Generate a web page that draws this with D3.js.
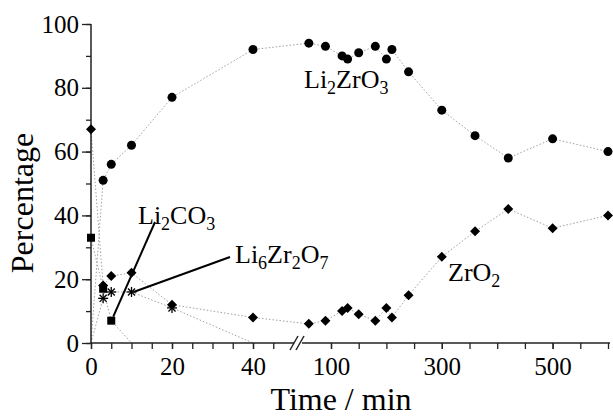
<!DOCTYPE html>
<html>
<head>
<meta charset="utf-8">
<script src="https://cdn.jsdelivr.net/npm/d3@7"></script>
<style>
  body { margin: 0; background: #fff; }
  svg { display: block; }
  text { font-family: "Liberation Serif", "Times New Roman", serif; }
</style>
</head>
<body>
<svg id="chart" width="613" height="418"></svg>
<script>
// time points (min)
const TIMES = [0, 3, 5, 10, 20, 40, 60, 90, 120, 130, 150, 180, 200, 210, 240, 300, 360, 420, 500, 600];
const LI2ZRO3 = [0, 51, 56, 62, 77, 92, 94, 93, 90, 89, 91, 93, 89, 92, 85, 73, 65, 58, 64, 60];
const ZRO2 = [67, 18, 21, 22, 12, 8, 6, 7, 10, 11, 9, 7, 11, 8, 15, 27, 35, 42, 36, 40];
const LI2CO3_TIMES = [0, 3, 5, 10];
const LI2CO3 = [33, 17, 7, 0];
const LI6_TIMES = [0, 3, 5, 10, 20, 40];
const LI6ZR2O7 = [0, 14, 16, 16, 11, 0];

const X_LEFT_TICKS = [0, 5, 10, 15, 20, 25, 30, 35, 40, 45];
const X_LEFT_LABELS = [0, 20, 40];
const X_RIGHT_TICKS = [100, 150, 200, 250, 300, 350, 400, 450, 500, 550, 600];
const X_RIGHT_LABELS = [100, 300, 500];
const Y_TICKS = [0, 10, 20, 30, 40, 50, 60, 70, 80, 90, 100];
const Y_LABELS = [0, 20, 40, 60, 80, 100];

const SERIF = '"Liberation Serif", "Times New Roman", serif';
const svg = d3.select("#chart");

const xLeft = d3.scaleLinear().domain([0, 40]).range([91, 253]);
const xRight = d3.scaleLinear().domain([100, 600]).range([331, 608]);
const x = t => (t <= 50 ? xLeft(t) : xRight(t));
const y = d3.scaleLinear().domain([0, 100]).range([343, 24]);

const zip = (ts, vs) => ts.map((t, i) => ({ t, v: vs[i] }));
const series = {
  li2zro3: zip(TIMES, LI2ZRO3),
  zro2: zip(TIMES, ZRO2),
  li2co3: zip(LI2CO3_TIMES, LI2CO3),
  li6: zip(LI6_TIMES, LI6ZR2O7)
};

// dotted connecting lines
const line = d3.line().x(d => x(d.t)).y(d => y(d.v));
Object.values(series).forEach(data => {
  svg.append("path")
    .attr("d", line(data))
    .attr("fill", "none")
    .attr("stroke", "#a0a0a0")
    .attr("stroke-width", 1)
    .attr("stroke-dasharray", "1.5,2");
});

// axes
function styleAxis(g) {
  g.attr("font-family", SERIF).attr("font-size", 25);
  g.select(".domain").remove();
  g.selectAll("line").attr("stroke", "#222").attr("stroke-width", 1.3);
  g.selectAll("text").attr("fill", "#000");
}

svg.append("g").attr("transform", "translate(91,0)")
  .call(d3.axisLeft(y).tickValues(Y_TICKS).tickSize(5).tickFormat(""))
  .call(styleAxis);
svg.append("g").attr("transform", "translate(91,0)")
  .call(d3.axisLeft(y).tickValues(Y_LABELS).tickSize(9).tickPadding(3))
  .call(styleAxis);

svg.append("g").attr("transform", "translate(0,343)")
  .call(d3.axisBottom(xLeft).tickValues(X_LEFT_TICKS).tickSize(6).tickFormat(""))
  .call(styleAxis);
svg.append("g").attr("transform", "translate(0,343)")
  .call(d3.axisBottom(xLeft).tickValues(X_LEFT_LABELS).tickSize(6).tickPadding(8))
  .call(styleAxis);
svg.append("g").attr("transform", "translate(0,343)")
  .call(d3.axisBottom(xRight).tickValues(X_RIGHT_TICKS).tickSize(6).tickFormat(""))
  .call(styleAxis);
svg.append("g").attr("transform", "translate(0,343)")
  .call(d3.axisBottom(xRight).tickValues(X_RIGHT_LABELS).tickSize(6).tickPadding(8))
  .call(styleAxis);

// axis lines with break
const axisStroke = g => g.attr("stroke", "#222").attr("stroke-width", 1.5).attr("fill", "none");
svg.append("line").attr("x1", 91).attr("x2", 91).attr("y1", y(100)).attr("y2", y(0)).call(axisStroke);
svg.append("line").attr("x1", 91).attr("x2", 294).attr("y1", y(0)).attr("y2", y(0)).call(axisStroke);
svg.append("line").attr("x1", 302).attr("x2", 610).attr("y1", y(0)).attr("y2", y(0)).call(axisStroke);
[0, 6].forEach(dx => {
  svg.append("line")
    .attr("x1", 290 + dx).attr("y1", 350)
    .attr("x2", 298 + dx).attr("y2", 336)
    .call(axisStroke);
});

// axis titles
svg.append("text")
  .attr("x", 341).attr("y", 410)
  .attr("text-anchor", "middle")
  .attr("font-family", SERIF).attr("font-size", 32)
  .text("Time / min");
svg.append("text")
  .attr("transform", "translate(33,203) rotate(-90)")
  .attr("text-anchor", "middle")
  .attr("font-family", SERIF).attr("font-size", 32)
  .text("Percentage");

// markers (zero values sit on the axis and are not marked)
const nz = data => data.filter(d => d.v > 0);

svg.selectAll(".circ").data(nz(series.li2zro3)).enter()
  .append("circle")
  .attr("cx", d => x(d.t)).attr("cy", d => y(d.v))
  .attr("r", 4.5).attr("fill", "#000");

svg.selectAll(".sq").data(nz(series.li2co3)).enter()
  .append("rect")
  .attr("x", d => x(d.t) - 4).attr("y", d => y(d.v) - 4)
  .attr("width", 8).attr("height", 8).attr("fill", "#000");

svg.selectAll(".dia").data(nz(series.zro2)).enter()
  .append("path")
  .attr("transform", d => `translate(${x(d.t)},${y(d.v)})`)
  .attr("d", "M0,-5L5,0L0,5L-5,0Z")
  .attr("fill", "#000");

const star = svg.selectAll(".star").data(nz(series.li6)).enter()
  .append("g")
  .attr("transform", d => `translate(${x(d.t)},${y(d.v)})`);
[0, 45, 90, 135].forEach(a => {
  star.append("line")
    .attr("x1", -5).attr("x2", 5).attr("y1", 0).attr("y2", 0)
    .attr("transform", `rotate(${a})`)
    .attr("stroke", "#000").attr("stroke-width", 1.3);
});

// pointer lines
const li2co3At5 = series.li2co3[2];
const li6At10 = series.li6[3];
svg.append("line")
  .attr("x1", x(li2co3At5.t) + 2).attr("y1", y(li2co3At5.v) - 4)
  .attr("x2", 155).attr("y2", 222)
  .attr("stroke", "#000").attr("stroke-width", 2);
svg.append("line")
  .attr("x1", x(li6At10.t) + 2).attr("y1", y(li6At10.v))
  .attr("x2", 230).attr("y2", 257)
  .attr("stroke", "#000").attr("stroke-width", 2);

// formula labels
const LABELS = [
  { x: 304, y: 88, parts: [["Li", 0], ["2", 1], ["ZrO", 0], ["3", 1]] },
  { x: 138, y: 224, parts: [["Li", 0], ["2", 1], ["CO", 0], ["3", 1]] },
  { x: 235, y: 263, parts: [["Li", 0], ["6", 1], ["Zr", 0], ["2", 1], ["O", 0], ["7", 1]] },
  { x: 448, y: 281, parts: [["ZrO", 0], ["2", 1]] }
];

LABELS.forEach(lab => {
  const t = svg.append("text").attr("x", lab.x).attr("y", lab.y)
    .attr("font-family", SERIF).attr("font-size", 26);
  let prevSub = 0;
  lab.parts.forEach(([s, sub]) => {
    t.append("tspan")
      .attr("dy", sub === prevSub ? 0 : (sub ? 6 : -6))
      .attr("font-size", sub ? 18 : 26)
      .text(s);
    prevSub = sub;
  });
});
</script>
</body>
</html>
